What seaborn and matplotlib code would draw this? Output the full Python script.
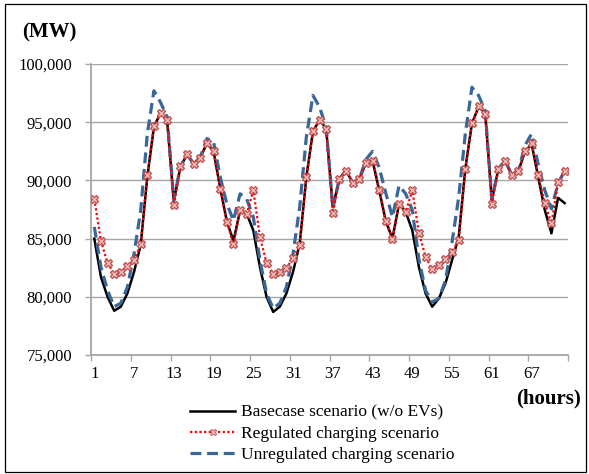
import numpy as np
import pandas as pd
import matplotlib
matplotlib.use("Agg")
import matplotlib.pyplot as plt
import matplotlib.patches as mpatches
from matplotlib.lines import Line2D
from matplotlib.ticker import FuncFormatter
import seaborn as sns

# ---------------- data ----------------
hours = list(range(1, 73))
tick_hours = [1, 7, 13, 19, 25, 31, 37, 43, 49, 55, 61, 67]

basecase = [85000, 81700, 80000, 78800, 79150, 80300, 82150, 84450, 90300, 94600,
            95800, 95100, 88200, 91200, 92200, 91450, 91950, 93200, 92500, 89350,
            86500, 84800, 87400, 87150, 85700, 82550, 80000, 78700, 79150, 80300,
            82150, 84550, 90250, 94200, 95200, 94450, 87700, 90150, 90850, 89800,
            90100, 91500, 91700, 89150, 86500, 85000, 88000, 87300, 85700, 82550,
            80300, 79150, 79850, 81150, 83150, 85100, 91000, 94900, 96300, 95800,
            88300, 91000, 91700, 90500, 90800, 92450, 93150, 90300, 87450, 85450,
            88500, 88050]

regulated = [88400, 84800, 82900, 81950, 82150, 82650, 83150, 84500, 90450, 94700,
             95800, 95150, 87850, 91200, 92250, 91450, 91950, 93250, 92500, 89300,
             86450, 84500, 87450, 87100, 89150, 85150, 82900, 81950, 82100, 82500,
             83300, 84450, 90250, 94250, 95200, 94450, 87200, 90150, 90850, 89800,
             90100, 91500, 91650, 89150, 86500, 84950, 88000, 87300, 89150, 85500,
             83450, 82350, 82750, 83250, 83850, 84900, 91000, 94900, 96350, 95700,
             87950, 91000, 91700, 90500, 90800, 92500, 93200, 90450, 88050, 86300,
             89850, 90800]

unregulated = [86000, 82550, 80550, 79150, 79450, 80850, 83700, 87400, 94000, 97700,
               96700, 95450, 88300, 91200, 92200, 91450, 92000, 93600, 93300, 90300,
               88000, 86550, 88850, 88400, 86850, 83150, 80300, 79000, 79450, 80850,
               83700, 87700, 93700, 97300, 96300, 94550, 87600, 90150, 90850, 89800,
               90100, 91800, 92500, 91100, 88900, 86850, 89550, 88850, 87450, 83200,
               80550, 79550, 79850, 81400, 84700, 88550, 94000, 98000, 97300, 96000,
               88400, 91000, 91700, 90500, 90800, 93000, 94000, 91400, 89150, 87550,
               89750, 90800]

labels = ["Basecase scenario (w/o EVs)",
          "Regulated charging scenario",
          "Unregulated charging scenario"]

df = pd.DataFrame({"hour": hours, "base": basecase,
                   "reg": regulated, "unreg": unregulated})

# ---------------- style ----------------
plt.rcParams["font.family"] = ["Liberation Serif", "DejaVu Serif"]

W, H = 589, 474
fig = plt.figure(figsize=(W / 100, H / 100), dpi=100)
ax = fig.add_axes([91 / W, 1 - 355 / H, (568 - 91) / W, (355 - 64) / H])

grid_c = "#A6A6A6"
black_c = "#000000"
red_c = "#FF0000"
mark_c = "#C0504D"
blue_c = "#3A6798"

sns.lineplot(data=df, x="hour", y="base", ax=ax, color=black_c, lw=1.8,
             zorder=3, legend=False)
sns.lineplot(data=df, x="hour", y="unreg", ax=ax, color=blue_c, lw=2.3,
             linestyle=(0, (3.4, 1.8)), zorder=4, legend=False)
sns.lineplot(data=df, x="hour", y="reg", ax=ax, color=red_c, lw=1.6,
             linestyle=(0, (1, 1.1)), marker="X", markersize=5.5,
             markerfacecolor="#EBB5B3", markeredgecolor=mark_c,
             markeredgewidth=0.9, zorder=5, legend=False)

ax.set_xlim(0.5, 72.5)
ax.set_ylim(75000, 100000)
ax.set_yticks(np.arange(75000, 100001, 5000))
ax.yaxis.set_major_formatter(FuncFormatter(lambda v, p: f"{int(v):,}"))
ax.set_xticks(tick_hours)
ax.set_xticklabels([str(t) for t in tick_hours])
ax.set_xticks(np.arange(0.5, 73, 6), minor=True)
ax.tick_params(axis="x", which="major", length=0, pad=8, labelsize=12)
ax.tick_params(axis="x", which="minor", length=4, width=1, color=grid_c,
               direction="out")
ax.tick_params(axis="y", which="major", length=4, width=1, color=grid_c,
               direction="out", pad=9.5, labelsize=12)
ax.set_xlabel("")
ax.set_ylabel("")
ax.grid(axis="y", color=grid_c, lw=1)
ax.grid(axis="x", visible=False)
ax.set_axisbelow(True)
for s in ["top", "right"]:
    ax.spines[s].set_visible(False)
for s in ["left", "bottom"]:
    ax.spines[s].set_color(grid_c)
    ax.spines[s].set_linewidth(1.3)
ax.set_facecolor("white")

fig.text(22 / W, 1 - 32 / H, "(MW)", fontsize=15, fontweight="bold",
         ha="left", va="center")
fig.text(581 / W, 1 - 398 / H, "(hours)", fontsize=15, fontweight="bold",
         ha="right", va="center")

handles = [
    Line2D([], [], color=black_c, lw=1.8),
    Line2D([], [], color=red_c, lw=1.6, linestyle=(0, (1, 1.1)), marker="X",
           markersize=4.5, markerfacecolor="#EBB5B3", markeredgecolor=mark_c,
           markeredgewidth=0.6),
    Line2D([], [], color=blue_c, lw=2.3, linestyle=(0, (3.4, 1.8))),
]
fig.legend(handles, labels, loc="center left",
           bbox_to_anchor=(190 / W, 1 - 434 / H), bbox_transform=fig.transFigure,
           frameon=False, fontsize=12.5, handlelength=2.6, handletextpad=0.35,
           labelspacing=0.3, borderpad=0, borderaxespad=0, numpoints=1)

border = mpatches.Rectangle((5 / W, 1 - 472 / H), (586 - 5) / W, (472 - 4) / H,
                            transform=fig.transFigure, fill=False,
                            edgecolor="#000000", lw=0.9)
fig.patches.append(border)

fig.savefig("out.png", dpi=100)
